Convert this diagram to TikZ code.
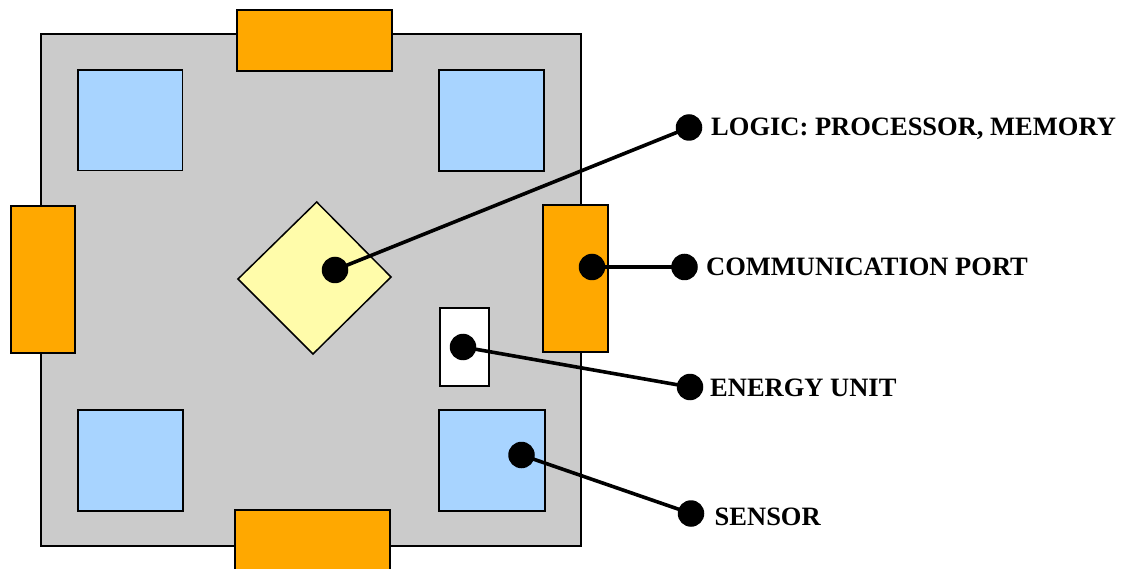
\documentclass[tikz,border=0pt]{standalone}
\usepackage{fontspec}
\setmainfont{Liberation Serif}
\definecolor{boardgray}{HTML}{CBCBCB}
\definecolor{portorange}{HTML}{FFA800}
\definecolor{sensorblue}{HTML}{A8D4FF}
\definecolor{logicyellow}{HTML}{FFFCAA}
\begin{document}
\begin{tikzpicture}[x=1pt,y=-1pt,
  part/.style={draw=black,line width=1.8pt,inner sep=0pt,outer sep=0pt},
  board/.style={part,fill=boardgray,line width=1.6pt},
  port/.style={part,fill=portorange},
  sensorbox/.style={part,fill=sensorblue},
  energybox/.style={part,fill=white,line width=1.5pt},
  dot/.style={circle,fill=black,minimum size=26.5pt,inner sep=0pt,outer sep=0pt},
  conn/.style={line width=3.6pt},
  lbl/.style={anchor=base west,inner sep=0pt,font=\bfseries\fontsize{26.5}{30}\selectfont}]
\useasboundingbox (0,0) rectangle (1122,569);
\clip (0,0) rectangle (1122,569);
% board
\node[board,minimum width=540pt,minimum height=512pt] (brd) at (311,290) {};
% ports
\node[port,minimum width=155pt,minimum height=61pt] (ptop) at (314.5,40.8) {};
\node[port,minimum width=155pt,minimum height=62pt] (pbot) at (312.5,541) {};
\node[port,minimum width=64.6pt,minimum height=147.3pt] (pleft) at (43,279.3) {};
\node[port,minimum width=65pt,minimum height=147pt] (pright) at (575.5,278.5) {};
% sensors
\node[sensorbox,minimum width=104.5pt,minimum height=100.5pt] (s1) at (130.3,120.3) {};
\node[sensorbox,minimum width=105.3pt,minimum height=100.7pt] (s2) at (491.3,120.3) {};
\node[sensorbox,minimum width=105pt,minimum height=100.5pt] (s3) at (130.5,460.5) {};
\node[sensorbox,minimum width=106pt,minimum height=100.5pt] (s4) at (492,460.5) {};
% logic diamond
\coordinate (lgc) at (314.7,278);
\draw[part,fill=logicyellow,line width=1.5pt] (316.7,202) -- (391,277) -- (313,354) -- (238,279) -- cycle;
% energy unit
\node[energybox,minimum width=49pt,minimum height=78pt] (eu) at (464.5,347) {};
% connectors
\node[dot] (d1) at (335,270) {};
\node[dot] (e1) at (689,127.5) {};
\node[dot] (d2) at (592,267) {};
\node[dot] (e2) at (684.5,267) {};
\node[dot] (d3) at (463,347) {};
\node[dot] (e3) at (690,387) {};
\node[dot] (d4) at (521.5,455) {};
\node[dot] (e4) at (691,513.5) {};
\draw[conn] (d1.center) -- (e1.center);
\draw[conn] (d2.center) -- (e2.center);
\draw[conn] (d3.center) -- (e3.center);
\draw[conn] (d4.center) -- (e4.center);
% labels
\node[lbl] (t1) at (711,135.5) {LOGIC: PROCESSOR, MEMORY};
\node[lbl] (t2) at (706,276) {COMMUNICATION PORT};
\node[lbl] (t3) at (710,396.5) {ENERGY UNIT};
\node[lbl] (t4) at (714.5,525.5) {SENSOR};
\end{tikzpicture}
\end{document}
